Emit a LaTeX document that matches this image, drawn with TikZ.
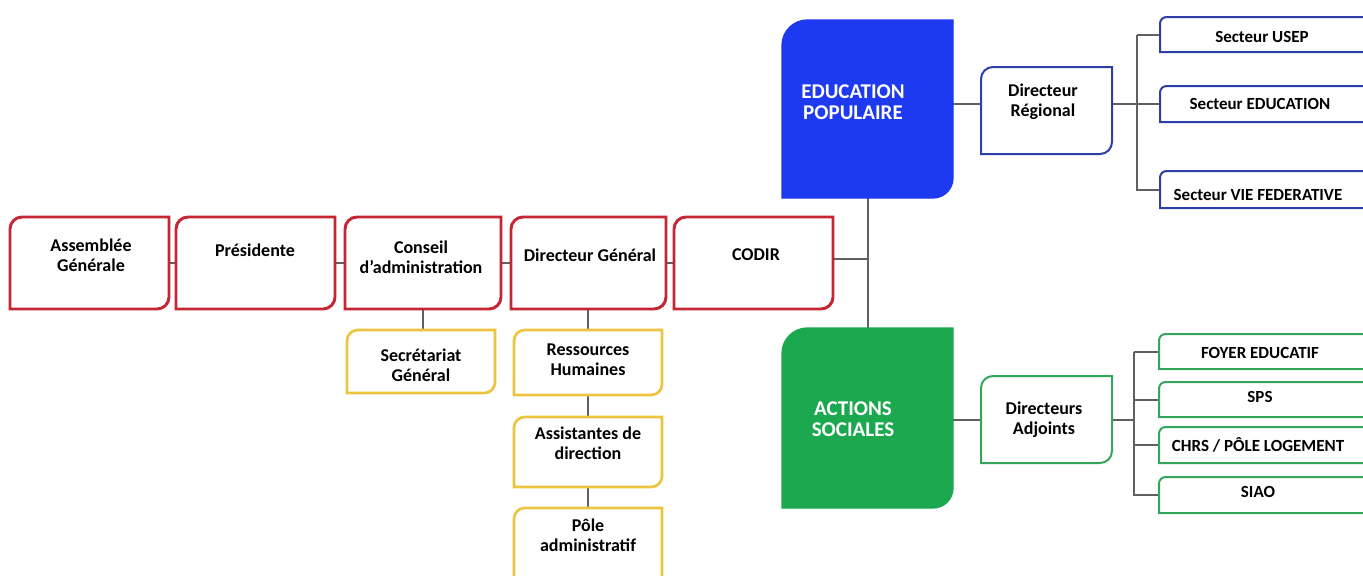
\documentclass[tikz,border=0pt]{standalone}
\usepackage{fontspec}
\setmainfont{Carlito}
\definecolor{myred}{RGB}{196,38,52}
\definecolor{myyellow}{RGB}{236,196,64}
\definecolor{myblue}{RGB}{30,58,240}
\definecolor{mygreen}{RGB}{28,168,78}
\definecolor{bline}{RGB}{44,62,168}
\definecolor{gline}{RGB}{52,166,90}
\definecolor{linegray}{RGB}{96,96,96}
\tikzset{
  base/.style={inner sep=0pt, outer sep=0pt, draw=none, anchor=north west},
  lbl/.style={font=\bfseries\fontsize{13.5}{14.8}\selectfont, align=center, inner sep=0pt},
  biglbl/.style={font=\bfseries\fontsize{15.75}{16}\selectfont, align=center, inner sep=0pt, text=white},
  smalllbl/.style={font=\bfseries\fontsize{12.75}{13.5}\selectfont, align=center, inner sep=0pt},
  conn/.style={draw=linegray, line width=1.5pt},
  redf/.style={draw=myred, line width=2.2pt, fill=white},
  yelf/.style={draw=myyellow, line width=2pt, fill=white},
  bluef/.style={draw=myblue, fill=myblue, line width=1pt},
  greenf/.style={draw=mygreen, fill=mygreen, line width=1pt},
  bof/.style={draw=bline, line width=1.5pt, fill=white},
  gof/.style={draw=gline, line width=1.5pt, fill=white},
}
% name, left, top, right, bottom (pixels)
\newcommand\mkbox[5]{\node[base, minimum width={(#4-#2)*0.75pt}, minimum height={(#5-#3)*0.75pt}] (#1) at (#2,-#3) {};}
% frame: style, node, radius tl, radius br
\newcommand\dframe[4]{\draw[#1] ([yshift=-#3]#2.north west) arc[start angle=180,end angle=90,radius=#3] -- (#2.north east) -- ([yshift=#4]#2.south east) arc[start angle=0,end angle=-90,radius=#4] -- (#2.south west) -- cycle;}
\begin{document}
\begin{tikzpicture}[x=0.75pt,y=0.75pt]
\clip (0,0) rectangle (1363,-575);
\fill[white] (0,0) rectangle (1363,-575);
% boxes
\mkbox{ag}{10}{217}{169}{309}
\mkbox{pres}{176}{217}{335}{309}
\mkbox{ca}{345}{217}{501}{309}
\mkbox{dg}{511}{217}{666}{309}
\mkbox{codir}{674}{217}{833}{309}
\mkbox{sg}{347}{330}{495}{393}
\mkbox{rh}{514}{330}{662}{395}
\mkbox{ad}{514}{417}{662}{487}
\mkbox{pa}{514}{508}{662}{590}
\mkbox{edu}{782}{20}{953}{198}
\mkbox{act}{782}{328}{953}{508}
\mkbox{dreg}{981}{67}{1112}{154}
\mkbox{dadj}{981}{376}{1112}{463}
\mkbox{usep}{1160}{17}{1380}{52}
\mkbox{seduc}{1160}{86}{1380}{122}
\mkbox{vie}{1160}{171}{1380}{208}
\mkbox{foyer}{1159}{334}{1380}{369}
\mkbox{sps}{1159}{382}{1380}{417}
\mkbox{chrs}{1159}{427}{1380}{463}
\mkbox{siao}{1159}{477}{1380}{513}
% connectors
\draw[conn] (ag.east) -- (pres.west);
\draw[conn] (pres.east) -- (ca.west);
\draw[conn] (ca.east) -- (dg.west);
\draw[conn] (dg.east) -- (codir.west);
\draw[conn] (ca.south) -- (ca.south |- sg.north);
\draw[conn] (dg.south -| rh.north) -- (rh.north);
\draw[conn] (rh.south) -- (ad.north);
\draw[conn] (ad.south) -- (pa.north);
\draw[conn] (edu.south) -- (act.north);
\draw[conn] ([yshift=3pt]codir.east) -- ([yshift=3pt]codir.east -| edu.south);
\draw[conn] ([yshift=5pt]edu.east |- dreg.west) -- ([yshift=5pt]dreg.west);
\draw[conn] ([yshift=5pt]dreg.east) -- ([yshift=5pt]dreg.east -| seduc.west);
\draw[conn] ([xshift=-17pt]usep.west) -- (usep.west);
\draw[conn] ([xshift=-17pt]usep.west) |- (vie.west);
\draw[conn] (act.east |- dadj.west) -- (dadj.west);
\draw[conn] (dadj.east) -- ([xshift=-19pt]dadj.east -| foyer.west);
\draw[conn] ([xshift=-19pt]foyer.west) -- (foyer.west);
\draw[conn] ([xshift=-19pt]sps.west) -- (sps.west);
\draw[conn] ([xshift=-19pt]chrs.west) -- (chrs.west);
\draw[conn] ([xshift=-19pt]foyer.west) |- (siao.west);
% frames
\dframe{redf}{ag}{9pt}{9pt}
\dframe{redf}{pres}{9pt}{9pt}
\dframe{redf}{ca}{9pt}{9pt}
\dframe{redf}{dg}{9pt}{9pt}
\dframe{redf}{codir}{9pt}{9pt}
\dframe{yelf}{sg}{8pt}{8pt}
\dframe{yelf}{rh}{8pt}{8pt}
\dframe{yelf}{ad}{8pt}{8pt}
\dframe{yelf}{pa}{8pt}{8pt}
\dframe{bluef}{edu}{19pt}{15pt}
\dframe{greenf}{act}{19pt}{15pt}
\dframe{bof}{dreg}{9pt}{9pt}
\dframe{gof}{dadj}{9pt}{9pt}
\dframe{bof}{usep}{5pt}{5pt}
\dframe{bof}{seduc}{5pt}{5pt}
\dframe{bof}{vie}{5pt}{5pt}
\dframe{gof}{foyer}{5pt}{5pt}
\dframe{gof}{sps}{5pt}{5pt}
\dframe{gof}{chrs}{5pt}{5pt}
\dframe{gof}{siao}{5pt}{5pt}
% labels
\node[lbl] (ag-t) at (91,-255) {Assemblée\\Générale};
\node[lbl] (pres-t) at (255,-250) {Présidente};
\node[lbl] (ca-t) at (421,-257) {Conseil\\d’administration};
\node[lbl] (dg-t) at (590,-255) {Directeur Général};
\node[lbl] (codir-t) at (756,-255) {CODIR};
\node[lbl] (sg-t) at (421,-365) {Secrétariat\\Général};
\node[lbl] (rh-t) at (588,-360) {Ressources\\Humaines};
\node[lbl] (ad-t) at (588,-443) {Assistantes de\\direction};
\node[lbl] (pa-t) at (588,-535) {Pôle\\administratif};
\node[biglbl] (edu-t) at (853,-102) {EDUCATION\\POPULAIRE};
\node[biglbl] (act-t) at (853,-419) {ACTIONS\\SOCIALES};
\node[lbl] (dreg-t) at (1043,-102) {Directeur\\Régional};
\node[lbl] (dadj-t) at (1044,-420) {Directeurs\\Adjoints};
\node[smalllbl] (usep-t) at (1262,-37) {Secteur USEP};
\node[smalllbl] (seduc-t) at (1260,-104) {Secteur EDUCATION};
\node[smalllbl] (vie-t) at (1258,-195) {Secteur VIE FEDERATIVE};
\node[smalllbl] (foyer-t) at (1260,-353) {FOYER EDUCATIF};
\node[smalllbl] (sps-t) at (1260,-397) {SPS};
\node[smalllbl] (chrs-t) at (1258,-445) {CHRS / PÔLE LOGEMENT};
\node[smalllbl] (siao-t) at (1258,-492) {SIAO};
\end{tikzpicture}
\end{document}
